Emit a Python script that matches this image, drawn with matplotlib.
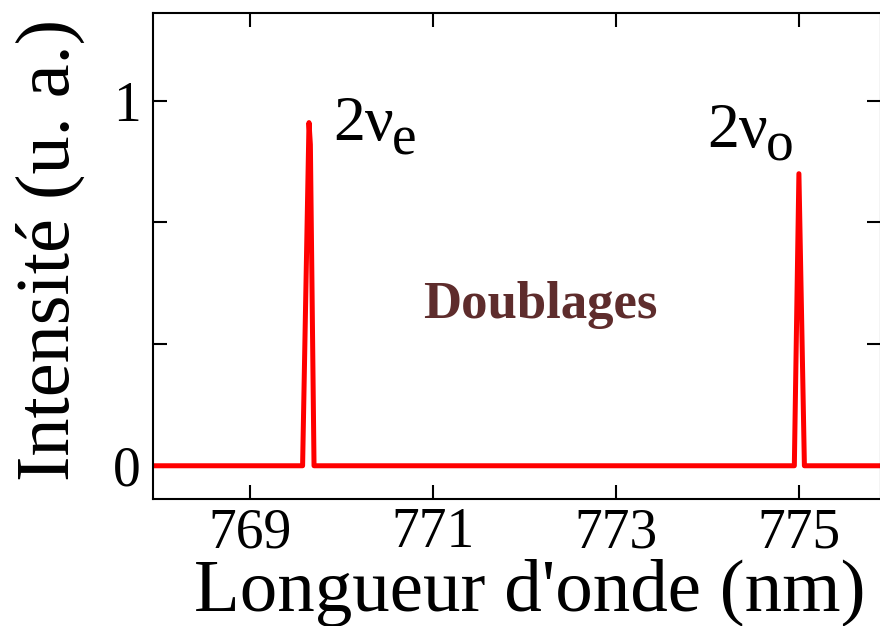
import numpy as np
import matplotlib
matplotlib.use('Agg')
import matplotlib.pyplot as plt

plt.rcParams['font.family'] = ['Liberation Serif', 'DejaVu Serif']
plt.rcParams['mathtext.fontset'] = 'custom'
plt.rcParams['mathtext.rm'] = 'Liberation Serif'

# spectrum (nm, arbitrary units)
wavelength = [767.95, 769.575, 769.645, 769.66, 769.70, 774.95, 775.0, 775.06, 775.95]
intensity = [0.0, 0.0, 0.94, 0.88, 0.0, 0.0, 0.80, 0.0, 0.0]

x_ticks = [769, 771, 773, 775]
y_ticks = [0, 1 / 3, 2 / 3, 1]
y_tick_labels = ['0', '', '', '1']

fig = plt.figure(figsize=(8.8, 6.26), dpi=100)
ax = fig.add_axes([0.1744, 0.2029, 1.001 - 0.1744, 0.9797 - 0.2029])

ax.plot(wavelength, intensity, color='#ff0000', lw=3.6, solid_joinstyle='round')

ax.set_xlim(767.945, 775.896)
ax.set_ylim(-0.091, 1.241)
ax.set_xticks(x_ticks)
ax.set_yticks(y_ticks)
ax.set_yticklabels(y_tick_labels)

for s in ax.spines.values():
    s.set_linewidth(1.5)
ax.tick_params(direction='in', length=10, width=1.5, top=True, right=True,
               labelsize=40)
ax.tick_params(axis='x', pad=6)
ax.tick_params(axis='y', pad=9)

ax.set_xlabel("Longueur d'onde (nm)", fontsize=54)
ax.set_ylabel('Intensité (u. a.)', fontsize=55)
ax.xaxis.set_label_coords(0.5175, -0.1235)
ax.yaxis.set_label_coords(-0.094, 0.512)

# peak labels, subscript placed right after the "2ν" text
t1 = ax.text(769.907, 0.892, '2ν', fontsize=46, ha='left', va='baseline')
ax.annotate('e', xy=(1.0, 0.0), xycoords=t1, xytext=(-1, -8.6),
            textcoords='offset points', fontsize=40, ha='left', va='bottom')
t2 = ax.text(773.995, 0.873, '2ν', fontsize=46, ha='left', va='baseline')
ax.annotate('o', xy=(1.0, 0.0), xycoords=t2, xytext=(-1, -8.6),
            textcoords='offset points', fontsize=40, ha='left', va='bottom')

ax.text(772.17, 0.405, 'Doublages', fontsize=38, fontweight='bold',
        color='#5e2c2c', ha='center', va='baseline')

fig.savefig('out.png', dpi=100)
